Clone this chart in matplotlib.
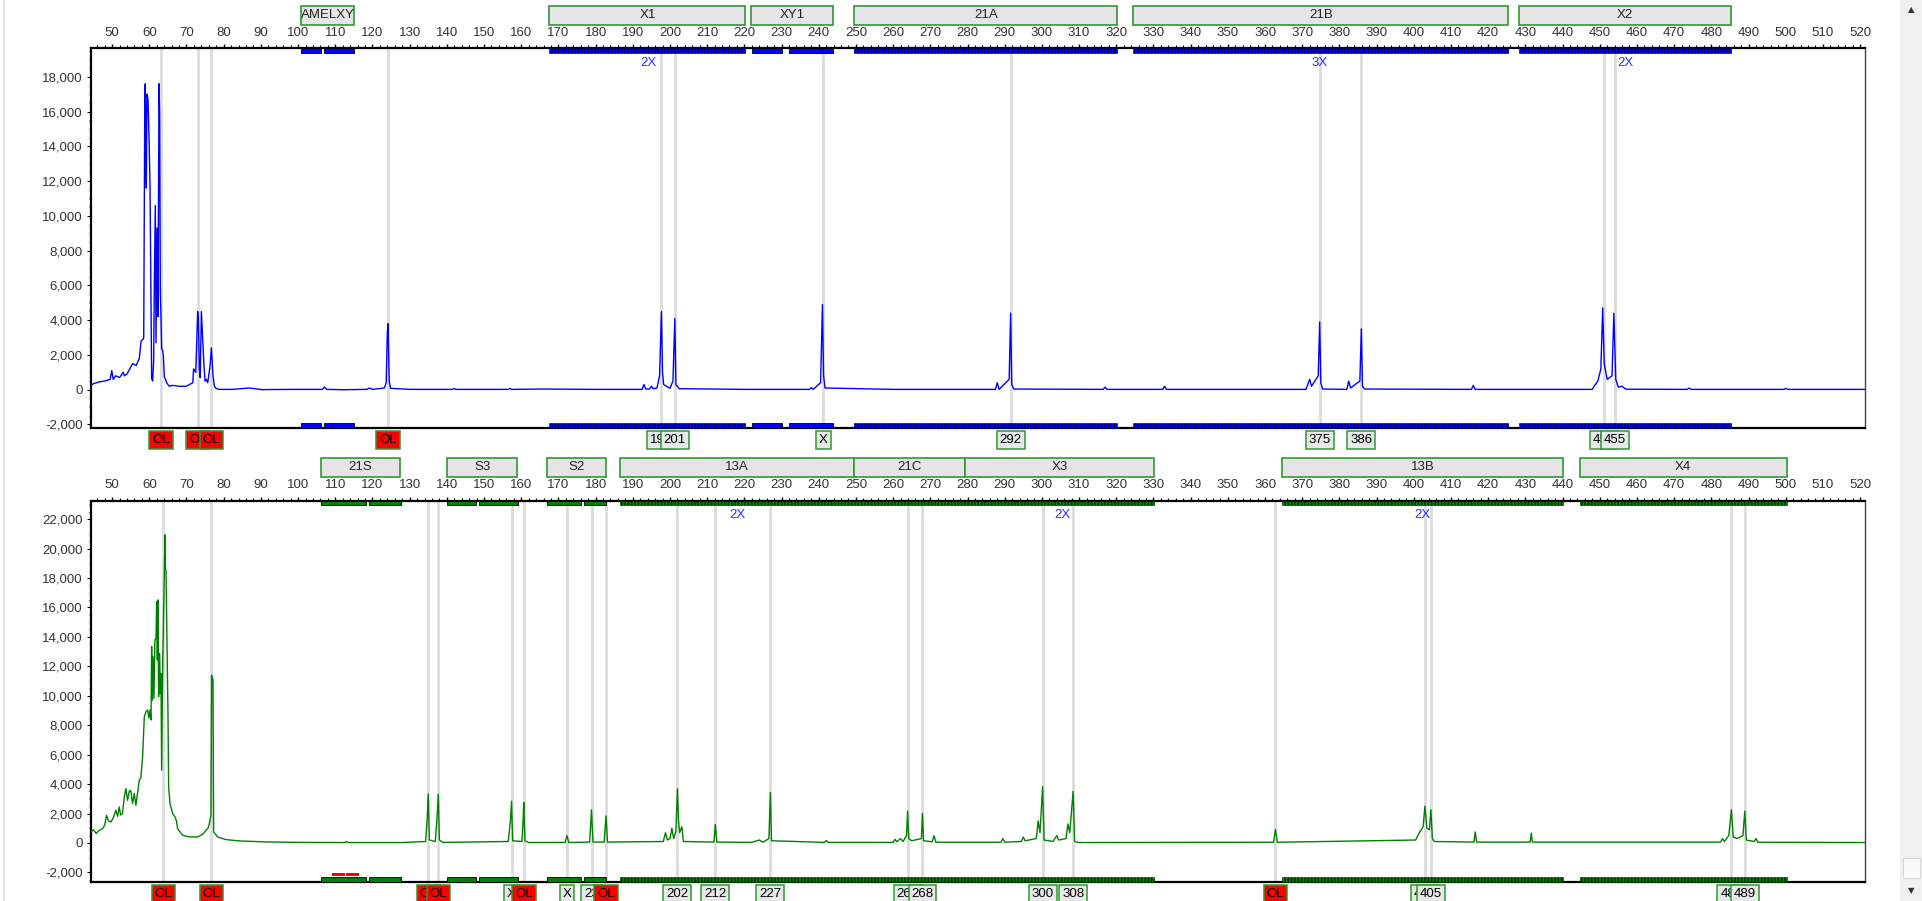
import matplotlib
matplotlib.use("Agg")
import matplotlib.pyplot as plt
import matplotlib.transforms as mtransforms
from matplotlib.patches import Rectangle
from matplotlib.ticker import MultipleLocator, FuncFormatter

plt.rcParams["font.family"] = ["Liberation Sans", "DejaVu Sans"]

# ---------------------------------------------------------------------------
# Blue dye (top panel)
# ---------------------------------------------------------------------------
blue_bp = [44.3, 45.0, 46.5, 48.0, 49.5, 49.9, 50.3, 51.0, 52.0, 53.0, 53.3, 54.0,
           55.0, 55.5, 56.5, 57.3, 57.8, 58.3, 58.5, 58.66, 58.8, 58.93, 59.05,
           59.2, 59.38, 59.65, 59.92, 60.19, 60.46, 60.63, 60.9, 61.17, 61.35,
           61.62, 61.8, 62.07, 62.34, 62.61, 62.78, 62.96, 63.14, 63.32, 63.59,
           63.77, 64.04, 64.3, 64.66, 65.03, 65.38, 66.3, 68.1, 69.9, 71.7, 71.9,
           72.5, 73.0, 73.2, 73.45, 73.7, 74.0, 74.4, 74.7, 75.0, 75.33, 75.7,
           76.3, 76.7, 77.13, 77.5, 77.9, 78.8, 82.4, 86.9, 90.5, 91.4, 100.0,
           106.5, 107.1, 107.7, 112.0, 118.5, 119.2, 120.0, 123.2, 123.7, 124.0,
           124.2, 124.5, 124.9, 130.0, 141.5, 142.0, 142.5, 156.5, 157.0, 157.5,
           166.0, 180.0, 192.5, 193.0, 193.5, 194.5, 195.0, 195.5, 196.5, 197.2,
           197.7, 198.0, 198.3, 200.0, 200.8, 201.3, 201.6, 202.5, 220.0, 237.5,
           238.0, 238.5, 240.5, 241.0, 241.3, 241.7, 260.0, 287.5, 288.0, 288.5,
           291.2, 291.6, 291.9, 292.5, 316.5, 317.0, 317.5, 332.5, 333.0, 333.5,
           350.0, 371.0, 371.5, 372.0, 372.5, 374.3, 374.7, 375.0, 375.5, 382.0,
           382.5, 383.0, 385.5, 385.9, 386.2, 386.8, 415.5, 416.0, 416.5, 448.0,
           448.5, 449.5, 450.3, 450.8, 451.2, 452.0, 453.3, 453.8, 454.3, 455.0,
           456.0, 457.0, 473.5, 474.0, 474.5, 499.5, 500.0, 500.5, 521.3]
blue_rfu = [250, 350, 450, 500, 600, 1100, 600, 800, 700, 1000, 800, 900,
            1300, 1500, 1400, 1800, 2800, 2900, 3000, 10700, 17400, 17600, 13700,
            11600, 17000, 16700, 14600, 11800, 5100, 630, 500, 1700, 6000,
            10600, 2700, 9300, 4200, 17600, 15900, 5700, 4200, 2360, 2260,
            1980, 730, 630, 400, 300, 200, 250, 200, 200, 400, 1200,
            1000, 4500, 4000, 1200, 700, 4500, 2700, 1400, 500, 600, 400,
            1300, 2400, 800, 200, 80, 20, 20, 100, 0, 10, 20,
            20, 150, 20, 0, 20, 100, 20, 100, 400, 3300,
            3800, 500, 80, 20, 20, 70, 20, 20, 70, 20,
            40, 20, 20, 300, 40, 40, 200, 60, 100, 800,
            4500, 1000, 300, 80, 500, 4100, 300, 60, 20, 20,
            120, 20, 400, 4900, 800, 100, 20, 20, 400, 20,
            600, 4400, 300, 40, 20, 150, 20, 20, 200, 20,
            20, 20, 300, 600, 200, 800, 3900, 400, 40, 20,
            500, 100, 500, 3500, 200, 40, 20, 250, 20, 20,
            200, 500, 1200, 4700, 1500, 600, 800, 4400, 600, 150,
            200, 30, 20, 100, 20, 20, 80, 20, 20]

blue_marker_name = ["AMELXY", "X1", "XY1", "21A", "21B", "X2"]
blue_marker_start = [100.9, 167.6, 221.9, 249.6, 324.6, 428.3]
blue_marker_end = [115.0, 220.3, 243.9, 320.2, 425.4, 485.3]
blue_solid_bins = [(100.9, 106.1), (107.0, 115.1), (222.1, 230.1), (232.0, 243.9)]
blue_comb_bins = [(167.6, 220.3), (249.6, 320.2), (324.6, 425.4), (428.3, 485.3)]

blue_call_bp = [63.2, 73.1, 76.7, 124.2, 197.7, 201.3, 241.2, 291.6, 374.7, 385.9, 451.1, 454.1]
blue_call_text = ["OL", "OL", "OL", "OL", "198", "201", "X", "292", "375", "386", "451", "455"]
blue_dose_bp = [194.3, 374.7, 456.8]
blue_dose_text = ["2X", "3X", "2X"]

# ---------------------------------------------------------------------------
# Green dye (bottom panel)
# ---------------------------------------------------------------------------
green_bp = [44.3, 45.0, 45.7, 46.5, 47.45, 48.0, 48.5, 49.0, 49.7, 50.3, 51.0, 51.5,
            51.9, 52.3, 52.8, 53.2, 53.7, 54.15, 54.6, 55.0, 55.5, 55.95, 56.4,
            56.9, 57.3, 57.7, 58.2, 58.66, 59.1, 59.55, 59.9, 60.2, 60.46, 60.63,
            60.8, 61.0, 61.26, 61.5, 61.8, 61.98, 62.16, 62.34, 62.5, 62.78,
            62.96, 63.14, 63.32, 63.59, 63.95, 64.22, 64.35, 64.49, 64.76, 65.03,
            65.2, 65.56, 66.28, 66.9, 67.3, 67.6, 68.97, 70.76, 73.0, 74.35, 75.24,
            75.8, 76.14, 76.58, 76.76, 77.13, 77.3, 78.37, 80.6, 84.2, 91.4, 100.0,
            112.5, 113.0, 113.5, 128.0, 134.3, 134.7, 135.0, 135.3, 136.9, 137.4,
            137.7, 138.0, 139.0, 156.5, 157.1, 157.4, 157.7, 160.2, 160.5, 160.7,
            161.0, 162.0, 171.8, 172.3, 172.8, 178.4, 178.9, 179.3, 182.3, 182.8,
            183.2, 198.2, 198.8, 199.3, 200.0, 200.5, 201.0, 201.6, 202.0, 202.3,
            202.6, 203.2, 203.6, 211.8, 212.2, 212.6, 222.0, 224.0, 225.0, 226.6,
            227.0, 227.3, 241.5, 242.0, 242.5, 260.0, 260.5, 261.0, 262.0, 262.7,
            263.6, 263.9, 264.2, 265.0, 267.6, 267.9, 268.2, 270.5, 271.0, 271.5,
            289.0, 289.5, 290.0, 294.5, 295.0, 295.5, 298.5, 299.0, 299.5, 300.2,
            300.6, 303.0, 304.0, 304.5, 306.5, 307.0, 307.5, 308.4, 308.8, 310.0,
            362.3, 362.8, 363.3, 400.5, 401.5, 402.5, 403.0, 403.5, 404.2, 404.6,
            405.0, 405.5, 416.2, 416.5, 416.9, 431.3, 431.6, 431.9, 482.5, 483.0,
            483.5, 484.7, 485.4, 485.9, 487.0, 488.5, 489.0, 489.4, 491.5, 492.0,
            492.5, 521.3]
green_rfu = [750, 900, 650, 850, 975, 1200, 1880, 1500, 1430, 1700, 2220, 1800,
             2450, 1900, 2000, 3000, 3700, 2900, 3500, 3580, 2680, 3360, 2560,
             3500, 4260, 4380, 5850, 8570, 8910, 9030, 8500, 9030, 8350, 13340,
             9700, 12650, 9820, 13790, 13900, 16400, 12430, 16510, 9930, 12880,
             10160, 11520, 4940, 11970, 17300, 20930, 18600, 18550, 13560, 8570,
             3810, 2680, 2000, 1770, 1500, 975, 520, 410, 410, 590, 860,
             1000, 1315, 1880, 11400, 11070, 750, 410, 230, 140, 70, 40,
             30, 100, 30, 30, 100, 1500, 3330, 200, 100, 1800,
             3300, 200, 40, 100, 1500, 2830, 150, 100, 1500, 2750,
             150, 30, 40, 500, 30, 60, 2250, 60, 60, 1830,
             60, 100, 700, 200, 300, 1000, 300, 800, 3670, 1500,
             700, 1100, 100, 60, 1250, 60, 40, 200, 50, 300,
             3420, 150, 40, 170, 40, 40, 250, 80, 300, 100,
             500, 2170, 300, 150, 300, 2000, 150, 80, 500, 50,
             50, 300, 50, 100, 400, 150, 300, 1500, 700, 3830,
             200, 100, 500, 200, 300, 1300, 700, 3500, 100, 30,
             50, 920, 50, 200, 700, 1100, 2500, 1000, 900, 2250,
             300, 100, 60, 750, 60, 60, 670, 60, 60, 300,
             100, 500, 2250, 400, 300, 500, 2170, 200, 100, 300,
             50, 30]

green_marker_name = ["21S", "S3", "S2", "13A", "21C", "X3", "13B", "X4"]
green_marker_start = [106.1, 140.1, 167.0, 186.5, 249.4, 279.3, 364.5, 444.6]
green_marker_end = [127.5, 158.9, 182.7, 249.4, 279.3, 330.1, 440.2, 500.3]
green_solid_bins = [(106.1, 118.3), (119.0, 127.7), (140.1, 147.9), (148.7, 159.2),
                    (167.0, 176.1), (176.9, 182.9)]
green_comb_bins = [(186.5, 330.1), (364.5, 440.2), (444.6, 500.3)]
green_flag_bins = [(109.0, 112.5), (113.0, 116.5)]

green_call_bp = [63.8, 76.7, 135.0, 137.7, 157.4, 160.7, 172.3, 178.9, 182.8, 202.0,
                 212.2, 227.0, 263.9, 267.9, 300.2, 308.4, 362.8, 403.0, 404.6,
                 485.4, 489.0]
green_call_text = ["OL", "OL", "OL", "OL", "X", "OL", "X", "23", "OL", "202",
                   "212", "227", "264", "268", "300", "308", "OL", "403", "405",
                   "485", "489"]
green_dose_bp = [218.1, 305.4, 402.3]
green_dose_text = ["2X", "2X", "2X"]

x_ticks = list(range(50, 530, 10))

FS = 9.5
BOX_FILL = "#e7e4e7"
BOX_EDGE = "#2e9a2e"


def draw_panel(ax, bp, rfu, color, dark, yticks, ylim, names, starts, ends,
               solid, comb, calls_bp, calls_text, dose_bp, dose_text, flags=()):
    trans = mtransforms.blended_transform_factory(ax.transData, ax.transAxes)

    for x in calls_bp:
        ax.axvline(x, color="#dcdcdc", lw=2, zorder=0)
    ax.plot(bp, rfu, color=color, lw=1, zorder=3)

    ax.set_xlim(44.3, 521.3)
    ax.set_ylim(*ylim)
    ax.set_xticks(x_ticks)
    ax.xaxis.set_minor_locator(MultipleLocator(2))
    ax.set_yticks(yticks)
    ax.yaxis.set_minor_locator(MultipleLocator(500))
    ax.yaxis.set_major_formatter(FuncFormatter(lambda v, p: f"{int(v):,}"))
    ax.tick_params(axis="x", which="both", top=True, bottom=False,
                   labeltop=True, labelbottom=False, direction="out")
    ax.tick_params(axis="x", which="major", length=3, pad=4, labelsize=FS,
                   labelcolor="#333333", width=1)
    ax.tick_params(axis="x", which="minor", length=2, width=0.8)
    ax.tick_params(axis="y", which="major", length=3, pad=3, labelsize=FS,
                   labelcolor="#333333")
    ax.tick_params(axis="y", which="minor", length=1.5)
    for side in ("left", "top", "bottom"):
        ax.spines[side].set_linewidth(1.6)
    ax.spines["right"].set_linewidth(1.0)
    ax.spines["right"].set_color("#444444")

    # marker name boxes above the axis
    for name, s, e in zip(names, starts, ends):
        ax.add_patch(Rectangle((s, 1.062), e - s, 0.05, transform=trans,
                               facecolor=BOX_FILL, edgecolor=BOX_EDGE, lw=1.2,
                               clip_on=False))
        ax.text((s + e) / 2, 1.087, name, transform=trans, ha="center",
                va="center", fontsize=FS, color="#222222", clip_on=False)

    # allele bins along the top and bottom spines
    for y0 in (0.0, 0.987):
        for s, e in solid:
            ax.add_patch(Rectangle((s, y0), e - s, 0.013, transform=trans,
                                   facecolor=color, edgecolor="black", lw=0.6,
                                   zorder=4, clip_on=False))
        for s, e in comb:
            ax.add_patch(Rectangle((s, y0), e - s, 0.013, transform=trans,
                                   facecolor=color, edgecolor=dark, lw=0.4,
                                   hatch="|||||", zorder=4, clip_on=False))
    for s, e in flags:
        ax.add_patch(Rectangle((s, 0.016), e - s, 0.008, transform=trans,
                               facecolor="red", edgecolor="none", zorder=4))

    for x, t in zip(dose_bp, dose_text):
        ax.text(x, 0.962, t, transform=trans, ha="center", va="center",
                fontsize=FS, color="#3030ff")

    # allele call boxes under the axis
    for i, (x, t) in enumerate(zip(calls_bp, calls_text)):
        fc = "red" if t == "OL" else "#e8e8e8"
        ax.text(x, -0.032, t, transform=trans, ha="center", va="center",
                fontsize=FS, color="black", zorder=10 + i, clip_on=False,
                bbox=dict(boxstyle="square,pad=0.22", facecolor=fc,
                          edgecolor=BOX_EDGE, lw=1.1))


fig = plt.figure(figsize=(19.22, 9.01), dpi=100)
ax_top = fig.add_axes([0.0473, 0.525, 0.923, 0.4212])
ax_bot = fig.add_axes([0.0473, 0.0211, 0.923, 0.4234])

draw_panel(ax_top, blue_bp, blue_rfu, "#0000ff", "#000050",
           list(range(-2000, 20000, 2000)), (-2200, 19630),
           blue_marker_name, blue_marker_start, blue_marker_end,
           blue_solid_bins, blue_comb_bins, blue_call_bp, blue_call_text,
           blue_dose_bp, blue_dose_text)

draw_panel(ax_bot, green_bp, green_rfu, "#008000", "#002800",
           list(range(-2000, 24000, 2000)), (-2650, 23260),
           green_marker_name, green_marker_start, green_marker_end,
           green_solid_bins, green_comb_bins, green_call_bp, green_call_text,
           green_dose_bp, green_dose_text, flags=green_flag_bins)

# window chrome: left border and scrollbar
W, H = 1922, 901
fig.add_artist(Rectangle((3 / W, 0), 1.5 / W, 1, transform=fig.transFigure,
                         facecolor="#e2e2e2", edgecolor="none"))
fig.add_artist(Rectangle((1900 / W, 0), 22 / W, 1, transform=fig.transFigure,
                         facecolor="#f0f0f0", edgecolor="none"))
fig.add_artist(Rectangle((1903 / W, 858 / H * 0 + (1 - 878 / H)), 17 / W, 20 / H,
                         transform=fig.transFigure, facecolor="#fafafa",
                         edgecolor="#d8d8d8", lw=0.8))
fig.text(1911 / W, 1 - 10 / H, "\u25b2", fontsize=6, ha="center", va="center",
         color="#333333", family="DejaVu Sans")
fig.text(1911 / W, 1 - 891 / H, "\u25bc", fontsize=6, ha="center", va="center",
         color="#333333", family="DejaVu Sans")

fig.savefig("out.png", dpi=100)
plt.close(fig)
